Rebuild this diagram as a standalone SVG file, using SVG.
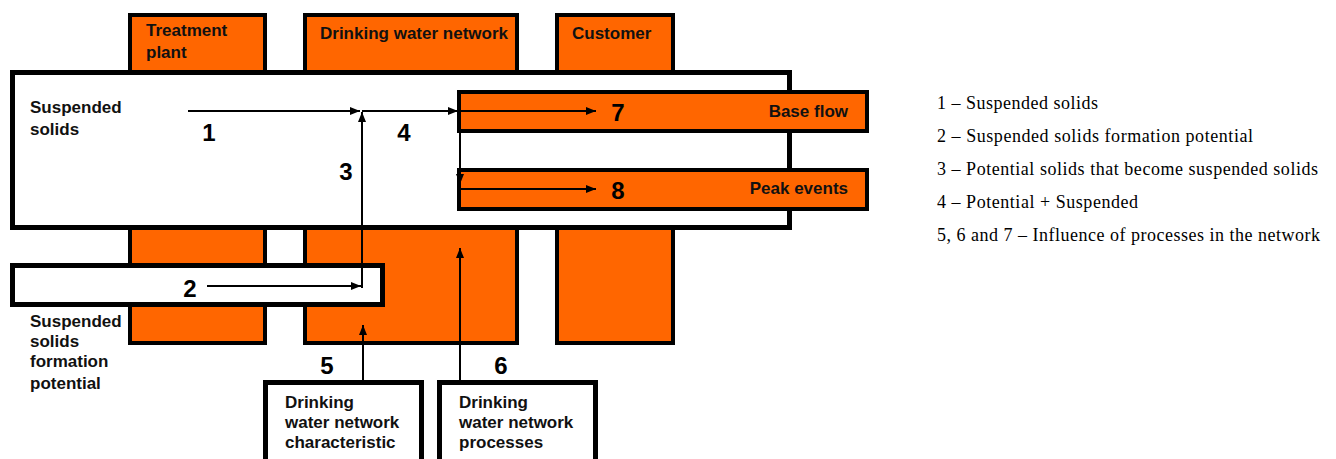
<svg xmlns="http://www.w3.org/2000/svg" width="1336" height="459" viewBox="0 0 1336 459">
<defs>
<marker id="ah" markerWidth="10" markerHeight="8" refX="10" refY="4" orient="auto" markerUnits="userSpaceOnUse"><path d="M0,0 L10,4 L0,8 Z" fill="#000"/></marker>
<style>
.org{fill:#ff6600;stroke:#000;stroke-width:4}
.wht{fill:#fff;stroke:#000;stroke-width:5}
.lbl{font-family:"Liberation Sans",Arial,sans-serif;font-weight:bold;font-size:17px;fill:#111}
.num{font-family:"Liberation Sans",Arial,sans-serif;font-weight:bold;font-size:24px;fill:#000}
.leg{font-family:"Liberation Serif","Times New Roman",serif;font-size:18px;fill:#000}
.ln{stroke:#000;stroke-width:2;fill:none}
</style>
</defs>
<rect width="1336" height="459" fill="#fff"/>
<g id="treatment-plant"><rect class="org" x="130" y="15" width="135" height="328"/><text class="lbl" x="146" y="36">Treatment</text><text class="lbl" x="146" y="58">plant</text></g>
<g id="drinking-water-network"><rect class="org" x="305" y="15" width="212" height="328"/><text class="lbl" x="320" y="39">Drinking water network</text></g>
<g id="customer"><rect class="org" x="557" y="15" width="116" height="328"/><text class="lbl" x="572" y="39">Customer</text></g>
<g id="suspended-solids"><rect class="wht" x="12.5" y="72.5" width="777" height="155"/><text class="lbl" x="30" y="113">Suspended</text><text class="lbl" x="30" y="135">solids</text></g>
<g id="formation-potential"><rect class="wht" x="12.5" y="265.5" width="370" height="39"/><text class="lbl" x="30" y="327">Suspended</text><text class="lbl" x="30" y="347">solids</text><text class="lbl" x="30" y="367">formation</text><text class="lbl" x="30" y="389">potential</text></g>
<g id="base-flow"><rect class="org" x="459" y="92" width="408" height="39"/><text class="lbl" x="848" y="117" text-anchor="end">Base flow</text></g>
<g id="peak-events"><rect class="org" x="459" y="170" width="408" height="39"/><text class="lbl" x="848" y="194" text-anchor="end">Peak events</text></g>
<g id="network-characteristic"><rect class="wht" x="265.5" y="382.5" width="156" height="90"/><text class="lbl" x="285" y="408">Drinking</text><text class="lbl" x="285" y="428">water network</text><text class="lbl" x="285" y="448">characteristic</text></g>
<g id="network-processes"><rect class="wht" x="439.5" y="382.5" width="156" height="90"/><text class="lbl" x="459" y="408">Drinking</text><text class="lbl" x="459" y="428">water network</text><text class="lbl" x="459" y="448">processes</text></g>
<g id="connectors">
<line class="ln" x1="188" y1="111" x2="360" y2="111" marker-end="url(#ah)"/>
<line class="ln" x1="362" y1="288" x2="362" y2="112" marker-end="url(#ah)"/>
<line class="ln" x1="362" y1="111" x2="458" y2="111" marker-end="url(#ah)"/>
<line class="ln" x1="460" y1="111" x2="596" y2="111" marker-end="url(#ah)"/>
<line class="ln" x1="460" y1="111" x2="460" y2="184" marker-end="url(#ah)"/>
<line class="ln" x1="460" y1="189" x2="596" y2="189" marker-end="url(#ah)"/>
<line class="ln" x1="207" y1="286" x2="361" y2="286" marker-end="url(#ah)"/>
<line class="ln" x1="363" y1="381" x2="363" y2="325" marker-end="url(#ah)"/>
<line class="ln" x1="460" y1="381" x2="460" y2="248" marker-end="url(#ah)"/>
</g>
<g id="numbers">
<text class="num" x="209" y="141" text-anchor="middle">1</text>
<text class="num" x="190" y="297" text-anchor="middle">2</text>
<text class="num" x="346" y="180" text-anchor="middle">3</text>
<text class="num" x="404" y="141" text-anchor="middle">4</text>
<text class="num" x="327" y="374" text-anchor="middle">5</text>
<text class="num" x="501" y="374" text-anchor="middle">6</text>
<text class="num" x="618" y="121" text-anchor="middle">7</text>
<text class="num" x="618" y="199" text-anchor="middle">8</text>
</g>
<g id="legend">
<text class="leg" x="937" y="109" textLength="161" lengthAdjust="spacing">1 – Suspended solids</text>
<text class="leg" x="937" y="142" textLength="316" lengthAdjust="spacing">2 – Suspended solids formation potential</text>
<text class="leg" x="937" y="175" textLength="381" lengthAdjust="spacing">3 – Potential solids that become suspended solids</text>
<text class="leg" x="937" y="208" textLength="201" lengthAdjust="spacing">4 – Potential + Suspended</text>
<text class="leg" x="937" y="241" textLength="383" lengthAdjust="spacing">5, 6 and 7 – Influence of processes in the network</text>
</g>
</svg>
